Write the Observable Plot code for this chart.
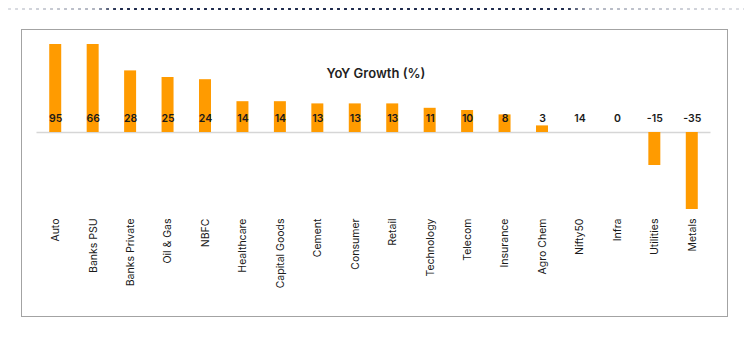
<!DOCTYPE html>
<html>
<head>
<meta charset="utf-8">
<script src="https://cdn.jsdelivr.net/npm/d3@7"></script>
<script src="https://cdn.jsdelivr.net/npm/@observablehq/plot@0.6"></script>
<style>
  html, body { margin: 0; padding: 0; background: #fff; }
  #wrap { position: relative; width: 750px; height: 345px; overflow: hidden; font-family: Inter, "Open Sans", sans-serif; }
  #dots { position: absolute; left: 6px; top: 7px; width: 738px; height: 4px;
    background-image: radial-gradient(circle, #1e2a4c 1.1px, transparent 1.5px);
    background-size: 7px 4px; background-repeat: repeat-x;
    -webkit-mask-image: linear-gradient(to right, rgba(0,0,0,0.15) 0%, rgba(0,0,0,0.35) 12%, #000 15%, #000 76%, rgba(0,0,0,0.35) 79%, rgba(0,0,0,0.15) 100%);
    mask-image: linear-gradient(to right, rgba(0,0,0,0.15) 0%, rgba(0,0,0,0.35) 12%, #000 15%, #000 76%, rgba(0,0,0,0.35) 79%, rgba(0,0,0,0.15) 100%); }
  #box { position: absolute; left: 21px; top: 29px; width: 705px; height: 286px; border: 1.5px solid #a3a3a3; }
  #chart { position: absolute; left: 0; top: 0; }
</style>
</head>
<body>
<div id="wrap">
  <div id="dots"></div>
  <div id="box"></div>
  <div id="chart"></div>
</div>
<script>
const categories = ["Auto","Banks PSU","Banks Private","Oil & Gas","NBFC","Healthcare","Capital Goods","Cement","Consumer","Retail","Technology","Telecom","Insurance","Agro Chem","Nifty50","Infra","Utilities","Metals"];
const growth = [95, 66, 28, 25, 24, 14, 14, 13, 13, 13, 11, 10, 8, 3, 14, 0, -15, -35];
const noBar = ["Nifty50"];
const yDomain = [-35, 40];
const title = "YoY Growth (%)";

const rows = categories.map((c, i) => ({sector: c, value: growth[i]}));
const barRows = rows.filter(d => !noBar.includes(d.sector));

const chart = Plot.plot({
  width: 750,
  height: 345,
  marginLeft: 36.5,
  marginRight: 39.5,
  marginTop: 44,
  marginBottom: 136,
  style: {fontFamily: "Inter, 'Open Sans', sans-serif", background: "transparent", overflow: "visible"},
  x: {domain: categories, paddingInner: 0.68, paddingOuter: 0.34, round: false, label: null, tickSize: 0, tickPadding: 9, tickRotate: -90},
  y: {domain: yDomain, clamp: true, axis: null},
  marks: [
    Plot.ruleY([0], {stroke: "#d6d6d6", strokeWidth: 1.5}),
    Plot.barY(barRows, {x: "sector", y: "value", fill: "#ff9b00"}),
    Plot.text(rows, {x: "sector", y: () => 0, text: d => String(d.value), dy: -14, fontSize: 10.5, fontWeight: 600, fill: "#1a1a1a"}),
    Plot.text([title], {frameAnchor: "top", text: d => d, dy: 24, dx: 2, fontSize: 13, fontWeight: 600, fill: "#1f1f1f"}),
    Plot.axisX({tickSize: 0, tickPadding: 9, tickRotate: -90, fontSize: 10.5, fill: "#1a1a1a", label: null})
  ]
});
document.getElementById("chart").appendChild(chart);
</script>
</body>
</html>
